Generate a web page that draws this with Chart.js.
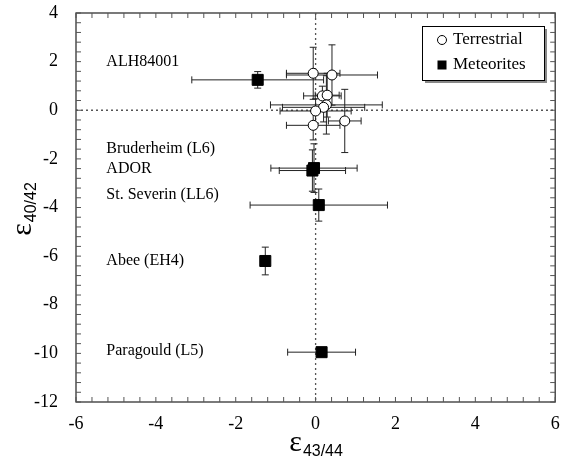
<!DOCTYPE html>
<html>
<head>
<meta charset="utf-8">
<script src="https://cdn.jsdelivr.net/npm/chart.js@4"></script>
<style>
  body { margin: 0; background: #fff; }
  #wrap { width: 564px; height: 470px; }
</style>
</head>
<body>
<div id="wrap"><canvas id="chart"></canvas></div>
<script>
// terrestrial samples
const terrX = [-0.06, 0.41, 0.17, 0.29, 0.27, 0.2, 0.0, -0.06, 0.73];
const terrY = [1.52, 1.45, 0.59, 0.62, 0.22, 0.12, -0.03, -0.62, -0.44];
const terrXErr = [0.67, 1.14, 0.47, 0.3, 1.4, 1.03, 0.89, 0.67, 0.41];
const terrYErr = [1.07, 1.24, 0.4, 0.9, 1.2, 0.6, 0.5, 0.6, 1.3];

// meteorites
const metNames = ['ALH84001', 'Bruderheim (L6)', 'ADOR', 'St. Severin (LL6)', 'Abee (EH4)', 'Paragould (L5)'];
const metX = [-1.45, -0.04, -0.08, 0.08, -1.26, 0.15];
const metY = [1.25, -2.38, -2.48, -3.9, -6.2, -9.95];
const metXErr = [1.65, 1.08, 0.83, 1.72, 0.1, 0.85];
const metYErr = [0.34, 1.0, 0.85, 0.66, 0.57, 0.15];
const labelX = -5.24;
const labelY = [1.99, -1.6, -2.42, -3.49, -6.2, -9.9];

const xRange = [-6, 6];
const yRange = [-12, 4];

const SERIF = '"Liberation Serif", "Times New Roman", serif';
const SANS = '"Liberation Sans", Arial, sans-serif';

function drawEps(ctx, sub, cx, cy, rot) {
  ctx.save();
  ctx.translate(cx, cy);
  ctx.rotate(rot);
  ctx.fillStyle = '#000';
  ctx.textAlign = 'left';
  ctx.textBaseline = 'alphabetic';
  ctx.font = '30px ' + SERIF;
  const w1 = ctx.measureText('ε').width;
  ctx.font = '16px ' + SANS;
  const w2 = ctx.measureText(sub).width;
  const x0 = -(w1 + w2) / 2;
  ctx.font = '30px ' + SERIF;
  ctx.fillText('ε', x0, 0);
  ctx.font = '16px ' + SANS;
  ctx.fillText(sub, x0 + w1 + 1, 5);
  ctx.restore();
}

const decor = {
  id: 'decor',
  beforeDatasetsDraw(chart) {
    const { ctx, chartArea: a, scales: { x, y } } = chart;
    ctx.save();
    // dotted zero lines
    ctx.strokeStyle = '#555';
    ctx.lineWidth = 1.3;
    ctx.setLineDash([2, 3]);
    ctx.beginPath();
    ctx.moveTo(x.getPixelForValue(0), a.top);
    ctx.lineTo(x.getPixelForValue(0), a.bottom);
    ctx.moveTo(a.left, y.getPixelForValue(0));
    ctx.lineTo(a.right, y.getPixelForValue(0));
    ctx.stroke();
    ctx.setLineDash([]);

    // error bars
    ctx.strokeStyle = '#222';
    ctx.lineWidth = 1;
    const cap = 3.5;
    const bars = (xs, ys, xe, ye) => {
      for (let i = 0; i < xs.length; i++) {
        const px = x.getPixelForValue(xs[i]);
        const py = y.getPixelForValue(ys[i]);
        const x1 = x.getPixelForValue(xs[i] - xe[i]);
        const x2 = x.getPixelForValue(xs[i] + xe[i]);
        const y1 = y.getPixelForValue(ys[i] - ye[i]);
        const y2 = y.getPixelForValue(ys[i] + ye[i]);
        ctx.beginPath();
        ctx.moveTo(x1, py); ctx.lineTo(x2, py);
        ctx.moveTo(x1, py - cap); ctx.lineTo(x1, py + cap);
        ctx.moveTo(x2, py - cap); ctx.lineTo(x2, py + cap);
        ctx.moveTo(px, y1); ctx.lineTo(px, y2);
        ctx.moveTo(px - cap, y1); ctx.lineTo(px + cap, y1);
        ctx.moveTo(px - cap, y2); ctx.lineTo(px + cap, y2);
        ctx.stroke();
      }
    };
    bars(terrX, terrY, terrXErr, terrYErr);
    bars(metX, metY, metXErr, metYErr);
    ctx.restore();
  },
  afterDraw(chart) {
    const { ctx, chartArea: a, scales: { x, y } } = chart;
    ctx.save();
    // frame
    ctx.strokeStyle = '#333';
    ctx.lineWidth = 1.3;
    ctx.strokeRect(a.left, a.top, a.right - a.left, a.bottom - a.top);

    // inward ticks every 0.4
    ctx.lineWidth = 1;
    ctx.strokeStyle = '#555';
    const tl = 5;
    ctx.beginPath();
    for (let k = 0; k <= 30; k++) {
      const px = x.getPixelForValue(xRange[0] + k * 0.4);
      ctx.moveTo(px, a.bottom); ctx.lineTo(px, a.bottom - tl);
      ctx.moveTo(px, a.top); ctx.lineTo(px, a.top + tl);
    }
    for (let k = 0; k <= 40; k++) {
      const py = y.getPixelForValue(yRange[0] + k * 0.4);
      ctx.moveTo(a.left, py); ctx.lineTo(a.left + tl, py);
      ctx.moveTo(a.right, py); ctx.lineTo(a.right - tl, py);
    }
    ctx.stroke();

    // sample labels
    ctx.fillStyle = '#000';
    ctx.font = '16px ' + SERIF;
    ctx.textAlign = 'left';
    ctx.textBaseline = 'middle';
    metNames.forEach((n, i) => {
      ctx.fillText(n, x.getPixelForValue(labelX), y.getPixelForValue(labelY[i]));
    });

    // legend box
    const lx = 422, ly = 26, lw = 122, lh = 54;
    ctx.fillStyle = '#888';
    ctx.fillRect(lx + 3, ly + 3, lw, lh);
    ctx.fillStyle = '#fff';
    ctx.fillRect(lx, ly, lw, lh);
    ctx.strokeStyle = '#000';
    ctx.lineWidth = 1;
    ctx.strokeRect(lx + 0.5, ly + 0.5, lw, lh);
    ctx.beginPath();
    ctx.arc(442, 40, 4.5, 0, Math.PI * 2);
    ctx.stroke();
    ctx.fillStyle = '#000';
    ctx.fillRect(437.5, 60.5, 9, 9);
    ctx.font = '17px ' + SERIF;
    ctx.textBaseline = 'middle';
    ctx.fillText(chart.data.datasets[0].label, 453, 40);
    ctx.fillText(chart.data.datasets[1].label, 453, 65);

    // axis titles
    drawEps(ctx, '43/44', (a.left + a.right) / 2, 451, 0);
    drawEps(ctx, '40/42', 31, (a.top + a.bottom) / 2 + 2, -Math.PI / 2);
    ctx.restore();
  }
};

new Chart(document.getElementById('chart'), {
  type: 'scatter',
  data: {
    datasets: [
      {
        label: 'Terrestrial',
        data: terrX.map((v, i) => ({ x: v, y: terrY[i] })),
        pointStyle: 'circle',
        pointRadius: 5,
        backgroundColor: '#fff',
        borderColor: '#000',
        borderWidth: 1,
      },
      {
        label: 'Meteorites',
        data: metX.map((v, i) => ({ x: v, y: metY[i] })),
        pointStyle: 'rect',
        pointRadius: 7.8,
        backgroundColor: '#000',
        borderColor: '#000',
        borderWidth: 1,
      },
    ],
  },
  options: {
    responsive: true,
    maintainAspectRatio: false,
    animation: false,
    layout: { padding: { top: 13, right: 2, left: 0, bottom: 0 } },
    plugins: { legend: { display: false }, tooltip: { enabled: false } },
    scales: {
      x: {
        type: 'linear',
        min: xRange[0],
        max: xRange[1],
        grid: { display: false, drawTicks: false },
        border: { display: false },
        ticks: { stepSize: 2, padding: 11, color: '#000', font: { family: SERIF, size: 18 } },
        afterFit: (s) => { s.height = 68; s.paddingLeft = 0; s.paddingRight = 0; },
      },
      y: {
        type: 'linear',
        min: yRange[0],
        max: yRange[1],
        grid: { display: false, drawTicks: false },
        border: { display: false },
        ticks: { stepSize: 2, padding: 18, color: '#000', font: { family: SERIF, size: 18 } },
        afterFit: (s) => { s.width = 76; s.paddingTop = 0; s.paddingBottom = 0; },
      },
    },
  },
  plugins: [decor],
});
</script>
</body>
</html>
